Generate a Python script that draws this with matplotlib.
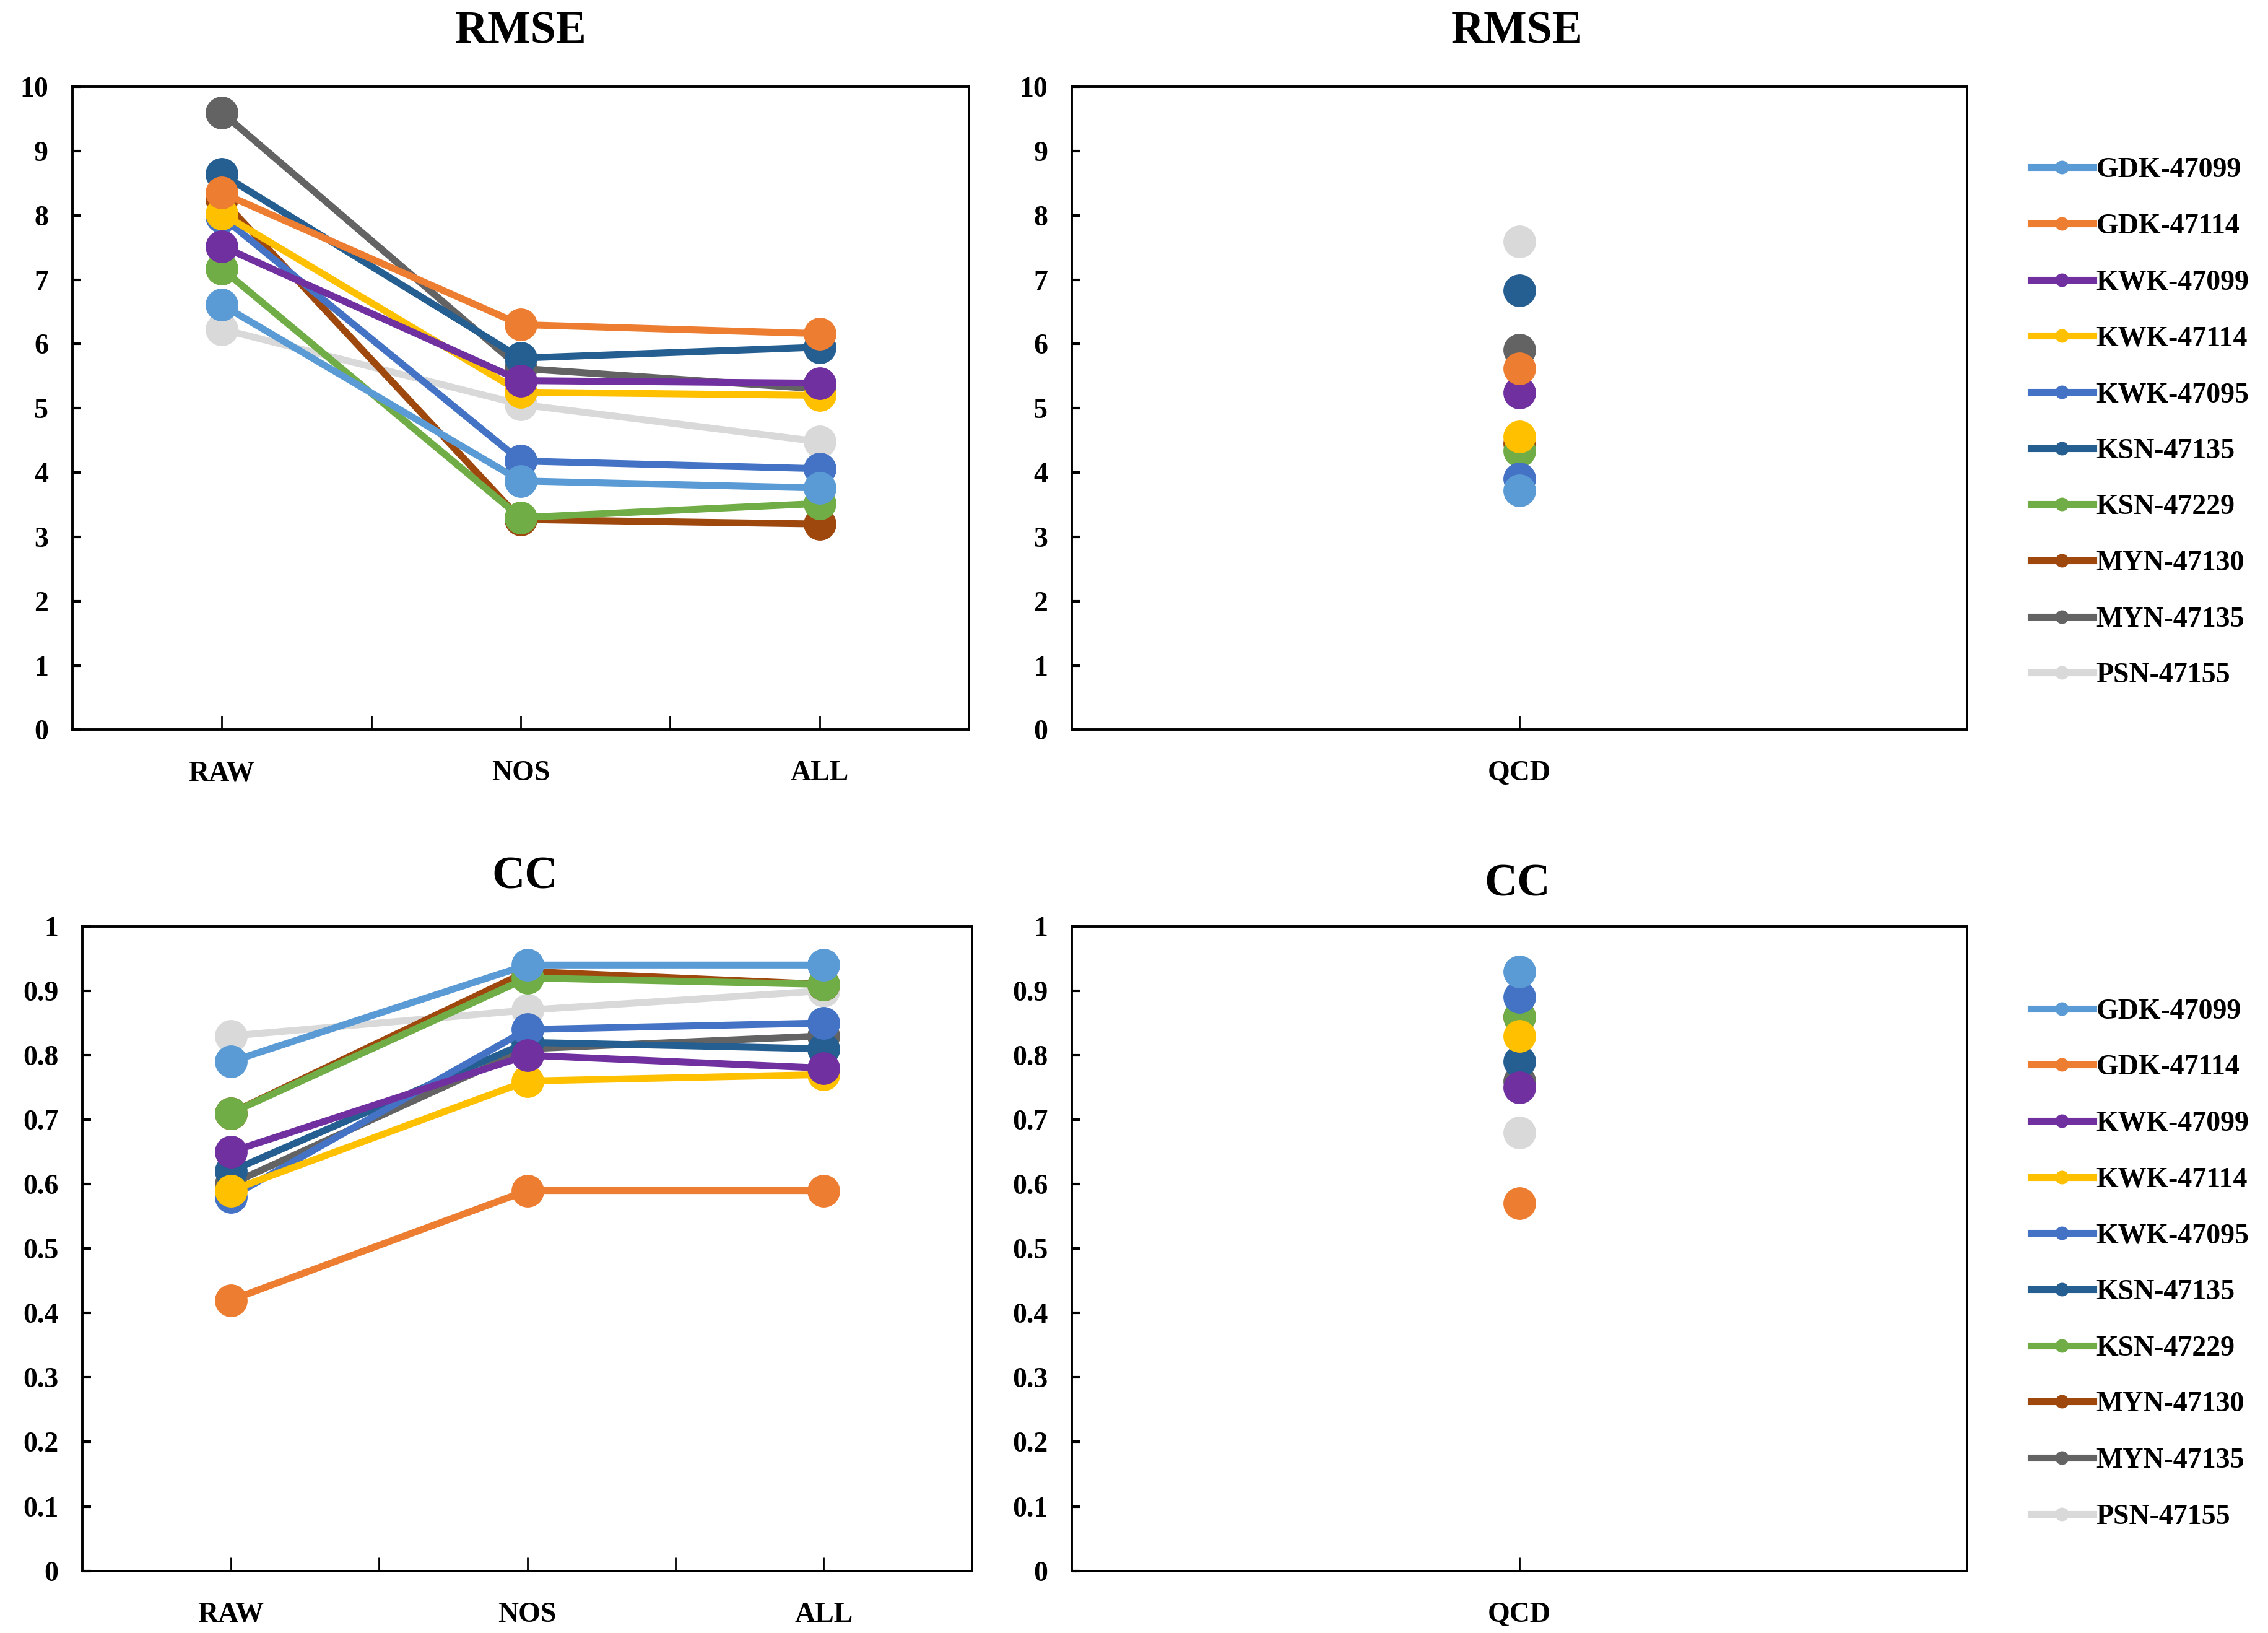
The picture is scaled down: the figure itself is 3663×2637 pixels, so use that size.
import numpy as np
import matplotlib
matplotlib.use("Agg")
from matplotlib import pyplot as plt

stations = ["GDK-47099", "GDK-47114", "KWK-47099", "KWK-47114", "KWK-47095",
            "KSN-47135", "KSN-47229", "MYN-47130", "MYN-47135", "PSN-47155"]
colors = ["#5B9BD5", "#ED7D31", "#7030A0", "#FFC000", "#4472C4",
          "#255E91", "#70AD47", "#9E480E", "#636363", "#D9D9D9"]

methods = ["RAW", "NOS", "ALL"]
qcd_label = ["QCD"]

# RMSE for RAW, NOS, ALL
rmse_gdk47099 = [6.61, 3.87, 3.76]
rmse_gdk47114 = [8.35, 6.30, 6.16]
rmse_kwk47099 = [7.52, 5.43, 5.39]
rmse_kwk47114 = [8.03, 5.25, 5.20]
rmse_kwk47095 = [7.98, 4.18, 4.06]
rmse_ksn47135 = [8.64, 5.78, 5.95]
rmse_ksn47229 = [7.17, 3.30, 3.52]
rmse_myn47130 = [8.25, 3.27, 3.20]
rmse_myn47135 = [9.60, 5.62, 5.30]
rmse_psn47155 = [6.23, 5.06, 4.48]

# CC for RAW, NOS, ALL
cc_gdk47099 = [0.79, 0.94, 0.94]
cc_gdk47114 = [0.42, 0.59, 0.59]
cc_kwk47099 = [0.65, 0.80, 0.78]
cc_kwk47114 = [0.59, 0.76, 0.77]
cc_kwk47095 = [0.58, 0.84, 0.85]
cc_ksn47135 = [0.62, 0.82, 0.81]
cc_ksn47229 = [0.71, 0.92, 0.91]
cc_myn47130 = [0.71, 0.93, 0.91]
cc_myn47135 = [0.60, 0.81, 0.83]
cc_psn47155 = [0.83, 0.87, 0.90]

# QCD values, one per station
rmse_qcd = [3.72, 5.62, 5.24, 4.56, 3.90, 6.83, 4.34, 4.45, 5.91, 7.59]
cc_qcd = [0.93, 0.57, 0.75, 0.83, 0.89, 0.79, 0.86, 0.86, 0.76, 0.68]

rmse_all = [rmse_gdk47099, rmse_gdk47114, rmse_kwk47099, rmse_kwk47114, rmse_kwk47095,
            rmse_ksn47135, rmse_ksn47229, rmse_myn47130, rmse_myn47135, rmse_psn47155]
cc_all = [cc_gdk47099, cc_gdk47114, cc_kwk47099, cc_kwk47114, cc_kwk47095,
          cc_ksn47135, cc_ksn47229, cc_myn47130, cc_myn47135, cc_psn47155]

plt.rcParams['font.family'] = ['Liberation Serif', 'DejaVu Serif']
plt.rcParams['font.weight'] = 'bold'

W, H = 1568.0, 1130.0
fig = plt.figure(figsize=(36.63, 26.37), dpi=100)

def rect(x0, y0, x1, y1):
    return [x0 / W, 1 - y1 / H, (x1 - x0) / W, (y1 - y0) / H]

ax_tl = fig.add_axes(rect(50, 60, 670, 505))
ax_tr = fig.add_axes(rect(741, 60, 1360, 505))
ax_bl = fig.add_axes(rect(57, 641, 672, 1087))
ax_br = fig.add_axes(rect(741, 641, 1360, 1087))

LW = 8
MS = 37
TICK_FS = 33

def style(ax, ylim, yticks, yfmt):
    ax.set_ylim(*ylim)
    ax.set_yticks(yticks)
    ax.set_yticklabels([yfmt(v) for v in yticks], fontsize=TICK_FS, fontweight='bold')
    for s in ax.spines.values():
        s.set_linewidth(2.8)
    ax.tick_params(axis='y', direction='in', length=10, width=3, pad=28)
    ax.tick_params(axis='x', which='both', direction='in', length=16, width=2, pad=36)

def line_panel(ax, series):
    xs = np.array([1, 3, 5])
    for i, vals in enumerate(series):
        ax.plot(xs, vals, color=colors[i], lw=LW, marker='o', ms=MS,
                solid_capstyle='round', zorder=20 - i, label=stations[i])
    ax.set_xlim(0, 6)
    ax.set_xticks([1, 2, 3, 4, 5])
    ax.set_xticklabels(["RAW", "", "NOS", "", "ALL"], fontsize=TICK_FS, fontweight='bold')

def dot_panel(ax, vals):
    for i, v in enumerate(vals):
        ax.plot([1], [v], color=colors[i], lw=LW, marker='o', ms=MS,
                zorder=20 - i, label=stations[i])
    ax.set_xlim(0, 2)
    ax.set_xticks([1])
    ax.set_xticklabels(qcd_label, fontsize=TICK_FS, fontweight='bold')

line_panel(ax_tl, rmse_all)
dot_panel(ax_tr, rmse_qcd)
line_panel(ax_bl, cc_all)
dot_panel(ax_br, cc_qcd)

rmse_ticks = list(range(0, 11))
cc_ticks = [round(0.1 * k, 1) for k in range(11)]
for ax in (ax_tl, ax_tr):
    style(ax, (0, 10), rmse_ticks, lambda v: "%d" % v)
for ax in (ax_bl, ax_br):
    style(ax, (0, 1), cc_ticks, lambda v: "%g" % v)

fig.text(360 / W, 1 - 22 / H, "RMSE", ha='center', va='center', fontsize=53, fontweight='bold')
fig.text(1049 / W, 1 - 22 / H, "RMSE", ha='center', va='center', fontsize=53, fontweight='bold')
fig.text(363 / W, 1 - 607 / H, "CC", ha='center', va='center', fontsize=53, fontweight='bold')
fig.text(1049 / W, 1 - 612 / H, "CC", ha='center', va='center', fontsize=53, fontweight='bold')

for ax, ytop in ((ax_tr, 115), (ax_br, 697)):
    h, l = ax.get_legend_handles_labels()
    fig.legend(h, l, loc='upper left', bbox_to_anchor=(1404 / W, 1 - (ytop - 6) / H),
               frameon=False, markerscale=0.4, handlelength=2.2,
               handletextpad=0.1, labelspacing=1.06, borderpad=0, borderaxespad=0,
               prop={'weight': 'bold', 'size': 33})

fig.savefig("out.png", dpi=100, facecolor='white')
